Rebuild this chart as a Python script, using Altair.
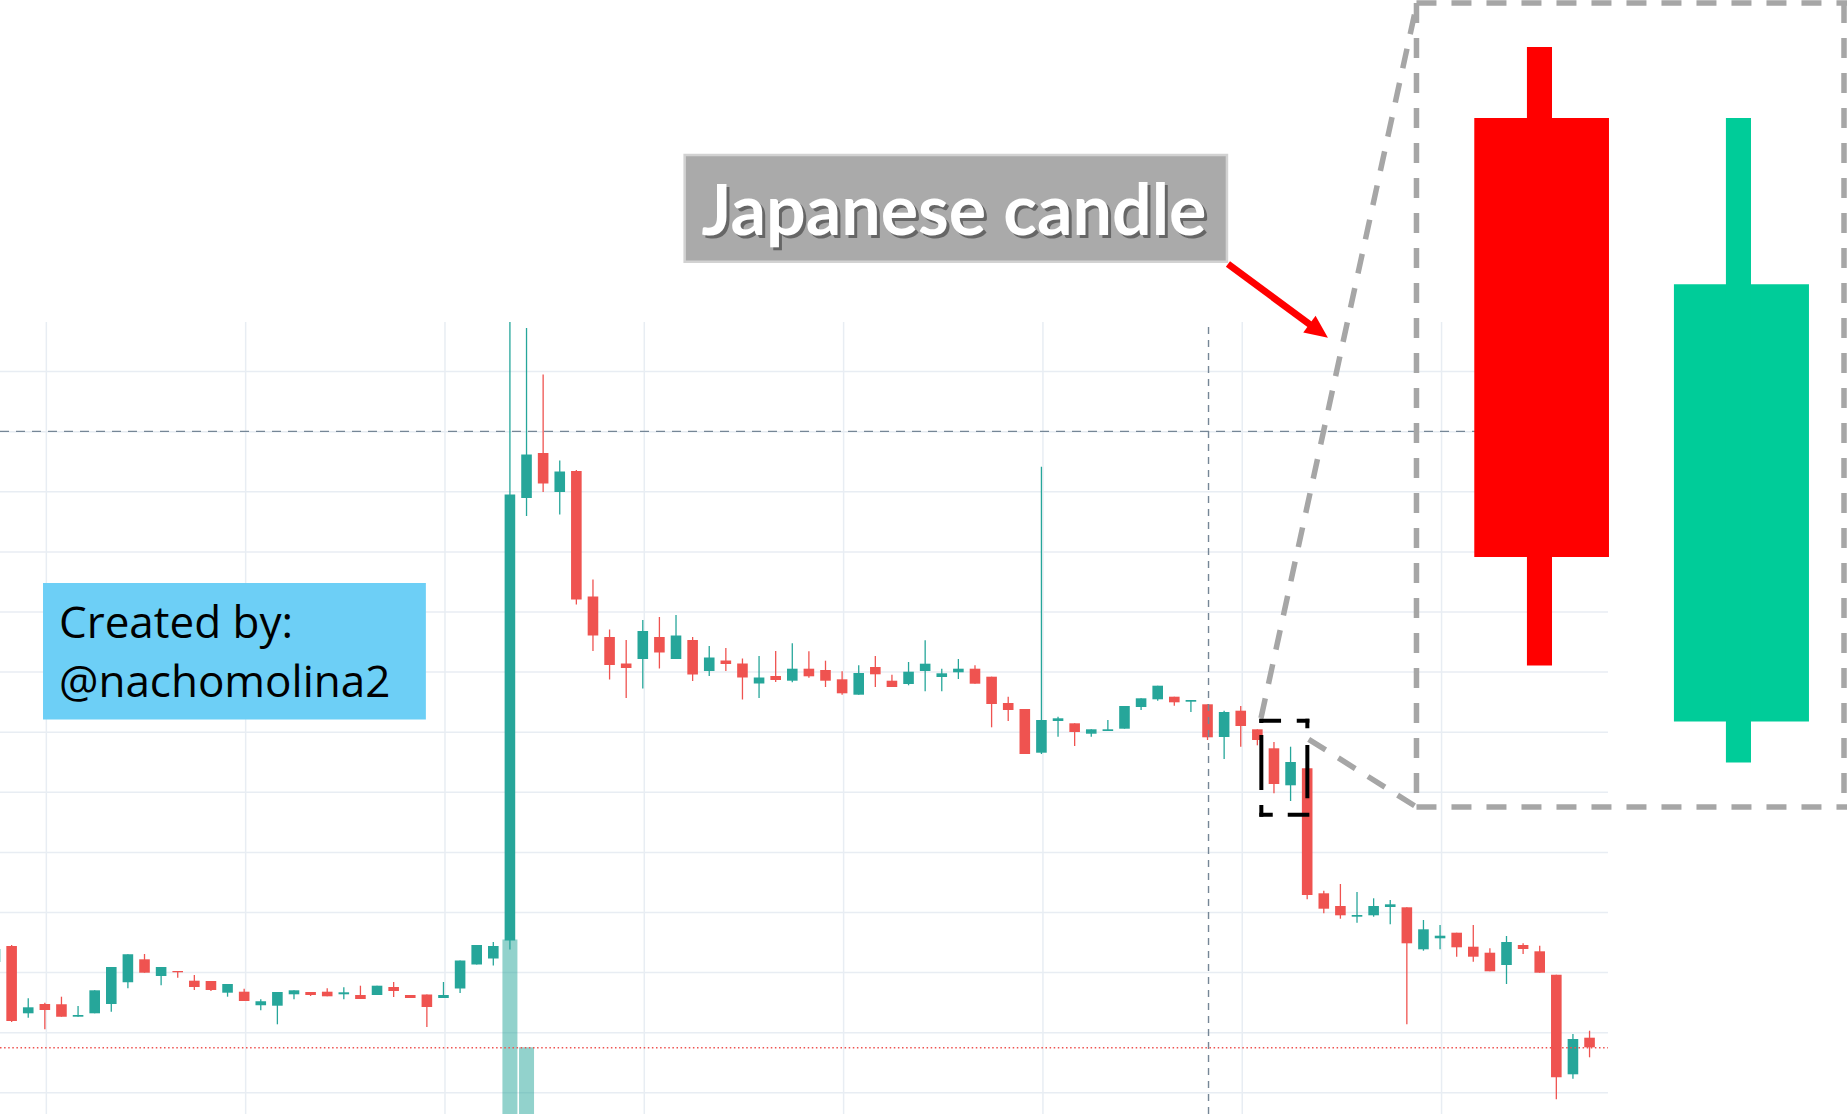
import altair as alt
import pandas as pd

# ---------------- candle data (price units, hourly candles) ----------------
candle_index = list(range(97))
open_ = [152, 168, 100.7, 110, 109.7, 97.3, 100.7, 110, 131.7, 154.7,
         138, 143, 133.3, 133, 121.3, 122.3, 108.7, 108.3, 119.7, 122,
         122.3, 119.7, 119, 119, 127, 119, 119.5, 116, 125.5, 149.5,
         155.5, 173.5, 616, 661, 622, 643, 517.5, 477, 450.5, 455,
         477, 455, 474, 443, 453.5, 450.5, 430.5, 438, 433.3, 445.3,
         444, 434.7, 419.3, 447, 433.3, 430, 443, 437, 441.7, 445.3,
         437.3, 411, 405, 361.3, 393, 390.7, 380.3, 383, 385.3, 407,
         414.7, 417.3, 412.3, 409.7, 377, 403.3, 384.7, 365.7, 328.7, 345.7,
         220.7, 208, 197.3, 198.7, 207, 206.7, 164.7, 175.7, 181.3, 167.3,
         161.3, 149, 169, 162.7, 139.3, 39.7, 76.3]
high = [169, 169, 115.7, 111.3, 117.3, 108, 123.7, 147, 159.7, 160,
        147, 143, 139, 133, 130, 125.3, 114.7, 122, 123.7, 122,
        125.7, 126.7, 128.3, 128.3, 132, 119, 119.5, 132, 153.5, 169,
        172, 792, 786, 739.5, 653.5, 644, 534.5, 484.5, 474, 494,
        497, 499, 477, 468, 466, 455.5, 458, 463, 470.7, 462.7,
        453.3, 442.7, 448.7, 458, 439.3, 452, 473.7, 445.3, 455, 448.7,
        437.3, 417.3, 405, 647.3, 397.3, 390.7, 384.7, 394, 408, 415.7,
        428.3, 417.3, 414, 409.7, 403.3, 408, 384.7, 372, 367.3, 345.7,
        223.3, 230, 222, 215.7, 214, 206.7, 194, 189, 181.3, 189,
        165.7, 178, 170.7, 168.3, 139.3, 80, 83.3]
low = [148, 92, 96.3, 84.7, 97.3, 97.3, 100.7, 102.3, 125.7, 141.3,
       128.7, 136.3, 124, 123, 117.3, 113, 103.7, 89.7, 114.7, 118,
       117.7, 114.7, 115, 119, 117, 116, 87, 116, 121, 149.5,
       148.5, 164.5, 598, 622, 599.5, 509.5, 463, 434.5, 416, 425.5,
       445.5, 455, 433, 438, 443, 414.5, 416, 432, 431.7, 436.3,
       427, 419.3, 419.3, 427, 427, 428.7, 422.7, 422.7, 435, 430.3,
       386.7, 393, 360, 360, 377.3, 368, 377.3, 383, 385.3, 404,
       413.3, 408.3, 402, 374, 355, 367.3, 368.7, 320.7, 313, 214.7,
       200.7, 195.3, 191.3, 197.3, 189.7, 89.7, 163.3, 164.7, 157.3, 152.3,
       142.7, 130, 160, 141.3, 14.7, 35.3, 56.7]
close = [165, 93, 106.7, 104, 97.3, 99, 123.7, 147, 159.7, 141.3,
         147, 141.7, 127, 124, 130, 113, 112.7, 122, 123.7, 119,
         117.7, 121.7, 115, 128.3, 123, 116, 107, 119, 153.5, 169,
         168, 619.5, 659.5, 630.5, 642.5, 514.5, 478.5, 449, 446, 483,
         461.5, 478.5, 439.5, 456.5, 450, 436.5, 436.5, 434, 445.3, 437.7,
         433.3, 420.7, 441, 439.7, 427, 442.3, 450.3, 440.7, 445.3, 430.3,
         410, 404, 360, 394, 395.7, 382, 384.7, 384.7, 408, 415.7,
         428.3, 411.7, 414, 376.7, 402, 388, 374, 330, 352, 219,
         205.3, 198.7, 199, 208, 209.7, 170.7, 184.7, 178.3, 166.7, 157.3,
         142.7, 172, 165, 141.3, 36.7, 75, 66.7]

# volume (only the two tallest bars reach into the visible window)
volume_index = [31, 32]
volume = [174.4, 66.8]

# grid / guide lines
hgrid_prices = [21.2, 81.3, 141.4, 201.5, 261.6, 321.7, 381.8, 441.9, 502.0, 562.1, 622.2, 682.3, 742.4]
vgrid_index = [3.09, 15.09, 27.09, 39.09, 51.09, 63.09, 75.09, 87.09]
plot_left, plot_right, plot_bottom, plot_top = 0.3, 97.11, 0, 792
crosshair_index = 73.06
crosshair_price = 682.6
last_price = 66.3

# zoomed illustration candles
big_x0 = [89.06, 92.23, 101.08, 104.21]
big_x1 = [97.17, 93.74, 109.21, 105.72]
big_y0 = [557.1, 448.6, 392.4, 351.6]
big_y1 = [995.9, 1067.0, 829.7, 995.9]
big_col = ["#ff0000", "#ff0000", "#00cc99", "#00cc99"]

# gray dashed connector lines
con_x0 = [85.58, 85.58, 111.32, 85.58, 76.22, 79.09]
con_y0 = [1111, 307, 1111, 1111, 396, 374.7]
con_x1 = [85.58, 111.5, 111.32, 111.5, 85.61, 85.58]
con_y1 = [307, 307, 307, 1111, 1111, 307]

X = alt.Scale(domain=[0.3, 111.5], nice=False, zero=False, padding=0)
Y = alt.Scale(domain=[0, 1114], nice=False, zero=False, padding=0)


def xq(f):
    return alt.X(f, type="quantitative", scale=X, axis=None)


def yq(f):
    return alt.Y(f, type="quantitative", scale=Y, axis=None)


GREEN = "#26a69a"
RED = "#ef5350"

df = pd.DataFrame({"i": candle_index, "open": open_, "high": high, "low": low, "close": close})
cond = alt.condition("datum.close >= datum.open", alt.value(GREEN), alt.value(RED))

layers = []

# grid
hg = pd.DataFrame({"p": hgrid_prices, "x0": plot_left, "x1": plot_right})
layers.append(alt.Chart(hg).mark_rule(color="#e8edf3", strokeWidth=1.5).encode(
    x=xq("x0"), x2="x1", y=yq("p")))
vg = pd.DataFrame({"i": vgrid_index, "y0": plot_bottom, "y1": plot_top})
layers.append(alt.Chart(vg).mark_rule(color="#e8edf3", strokeWidth=1.5).encode(
    x=xq("i"), y=yq("y0"), y2="y1"))

# "Created by" box
cb = pd.DataFrame({"x0": [2.89], "x1": [25.94], "y0": [394.5], "y1": [531]})
layers.append(alt.Chart(cb).mark_rect(color="#6dcff6").encode(
    x=xq("x0"), x2="x1", y=yq("y0"), y2="y1"))

# volume
vol = pd.DataFrame({"i": volume_index, "v": volume, "b": 0})
layers.append(alt.Chart(vol).mark_bar(size=15, color=GREEN, opacity=0.5).encode(
    x=xq("i"), y=yq("v"), y2="b"))

# candles
layers.append(alt.Chart(df).mark_rule(strokeWidth=1.3).encode(
    x=xq("i"), y=yq("low"), y2="high", color=cond))
layers.append(alt.Chart(df).mark_bar(size=10.6).encode(
    x=xq("i"), y=yq("open"), y2="close", color=cond))

# crosshair
ch = pd.DataFrame({"i": [crosshair_index], "y0": [plot_bottom], "y1": [plot_top]})
layers.append(alt.Chart(ch).mark_rule(color="#758696", strokeWidth=1.4, strokeDash=[7, 6]).encode(
    x=xq("i"), y=yq("y0"), y2="y1"))
chh = pd.DataFrame({"p": [crosshair_price], "x0": [plot_left], "x1": [plot_right]})
layers.append(alt.Chart(chh).mark_rule(color="#758696", strokeWidth=1.4, strokeDash=[9, 7]).encode(
    x=xq("x0"), x2="x1", y=yq("p")))

# last price dotted line
lp = pd.DataFrame({"p": [last_price], "x0": [plot_left], "x1": [plot_right]})
layers.append(alt.Chart(lp).mark_rule(color=RED, strokeWidth=1.4, strokeDash=[1.5, 2.6]).encode(
    x=xq("x0"), x2="x1", y=yq("p")))

# big illustration candles
big = pd.DataFrame({"x0": big_x0, "x1": big_x1, "y0": big_y0, "y1": big_y1, "c": big_col})
layers.append(alt.Chart(big).mark_rect().encode(
    x=xq("x0"), x2="x1", y=yq("y0"), y2="y1", color=alt.Color("c:N", scale=None)))

# gray dashed connectors
con = pd.DataFrame({"x0": con_x0, "y0": con_y0, "x1": con_x1, "y1": con_y1})
layers.append(alt.Chart(con).mark_rule(color="#a6a6a6", strokeWidth=5.5, strokeDash=[20, 15]).encode(
    x=xq("x0"), y=yq("y0"), x2="x1", y2="y1"))

# small black dashed box (four edges, clockwise)
edges = [
    (76.12, 393.3, 79.13, 393.3, [21.7, 15.7, 15, 100]),
    (79.01, 395.3, 79.01, 297.3, [9.6, 16.7, 53.3, 100]),
    (79.13, 299.3, 76.12, 299.3, [21.6, 15, 15, 100]),
    (76.24, 297.3, 76.24, 395.3, [11.7, 15, 55, 12, 10, 100]),
]
for ex0, ey0, ex1, ey1, dash in edges:
    e = pd.DataFrame({"x0": [ex0], "y0": [ey0], "x1": [ex1], "y1": [ey1]})
    layers.append(alt.Chart(e).mark_rule(color="black", strokeWidth=4, strokeDash=dash).encode(
        x=xq("x0"), y=yq("y0"), x2="x1", y2="y1"))

# red arrow
arr = pd.DataFrame({"x0": [74.23], "y0": [850], "x1": [79.53], "y1": [785]})
layers.append(alt.Chart(arr).mark_rule(color="#ff0000", strokeWidth=7).encode(
    x=xq("x0"), y=yq("y0"), x2="x1", y2="y1"))
head = pd.DataFrame({"x": [80.25], "y": [776.3]})
layers.append(alt.Chart(head).mark_point(shape="M0,0L-2,-0.9L-2,0.9Z", size=529, angle=36.4,
                                         filled=True, color="#ff0000", opacity=1, strokeWidth=0).encode(
    x=xq("x"), y=yq("y")))

# "Japanese candle" label
lb = pd.DataFrame({"x0": [41.52], "x1": [74.17], "y0": [852.3], "y1": [959]})
layers.append(alt.Chart(lb).mark_rect(color="#aaaaaa", stroke="#d2d2d2", strokeWidth=2.5).encode(
    x=xq("x0"), x2="x1", y=yq("y0"), y2="y1"))
lt = pd.DataFrame({"x": [57.74], "y": [879], "t": ["Japanese candle"]})
layers.append(alt.Chart(lt).mark_text(font="Lato", fontWeight="bold", fontSize=70,
                                      align="center", baseline="alphabetic", color="#3a3a3a",
                                      opacity=0.6, dx=3, dy=3).encode(
    x=xq("x"), y=yq("y"), text="t:N"))
layers.append(alt.Chart(lt).mark_text(font="Lato", fontWeight="bold", fontSize=70,
                                      align="center", baseline="alphabetic", color="white").encode(
    x=xq("x"), y=yq("y"), text="t:N"))

# "Created by" text
ct = pd.DataFrame({"x": [3.85, 3.85], "y": [476.5, 416.8], "t": ["Created by:", "@nachomolina2"]})
layers.append(alt.Chart(ct).mark_text(font="Open Sans", fontSize=44, align="left",
                                      baseline="alphabetic", color="black").encode(
    x=xq("x"), y=yq("y"), text="t:N"))

chart = alt.layer(*layers).properties(
    width=1847, height=1114, padding=0,
    autosize=alt.AutoSizeParams(type="none"),
    background="white",
).configure_view(strokeWidth=0)

chart.save("out.html", embed_options={"renderer": "svg", "actions": False})
